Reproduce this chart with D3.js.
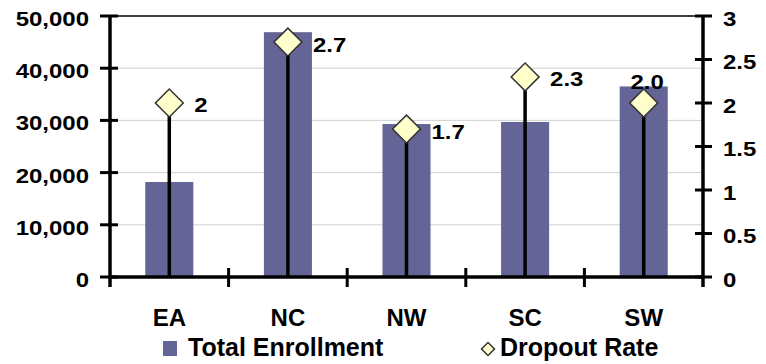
<!DOCTYPE html>
<html lang="en">
<head>
    <meta charset="UTF-8">
    <title>Enrollment and Dropout Rate</title>
    <script src="https://d3js.org/d3.v7.min.js"></script>
    <style>
        body { margin: 0; background: #fff; }
        text { font-family: "Liberation Sans", Arial, sans-serif; font-weight: bold; fill: #000; }
    </style>
</head>
<body>
<div id="chart"></div>
<script>
    var regions = ["EA", "NC", "NW", "SC", "SW"];
    var enrollment = [18200, 46900, 29300, 29700, 36500];
    var dropout = [2, 2.7, 1.7, 2.3, 2.0];
    var dropoutLabels = ["2", "2.7", "1.7", "2.3", "2.0"];
    var leftTicks = [0, 10000, 20000, 30000, 40000, 50000];
    var rightTicks = [0, 0.5, 1, 1.5, 2, 2.5, 3];

    var W = 766, H = 364;
    var margin = {top: 16, right: 63, bottom: 87, left: 110},
        width = W - margin.left - margin.right,
        height = H - margin.top - margin.bottom;

    var sx = 1.17; // the small labels are drawn a bit wide in the original

    function stretch(sel, k) {
        sel.each(function() {
            var t = d3.select(this);
            var xv = +t.attr("x") || 0;
            t.attr("x", xv / k).attr("transform", "scale(" + k + ",1)");
        });
    }

    var svg = d3.select("#chart")
        .append("svg")
        .attr("width", W)
        .attr("height", H);

    var g = svg.append("g")
        .attr("transform", "translate(" + margin.left + "," + margin.top + ")");

    var x = d3.scaleBand()
        .domain(regions)
        .range([0, width]);

    var y = d3.scaleLinear()
        .domain([0, 50000])
        .range([height, 0]);

    var y2 = d3.scaleLinear()
        .domain([0, 3])
        .range([height, 0]);

    // gridlines
    g.append("g")
        .selectAll("line")
        .data(leftTicks.slice(1, -1))
        .enter()
        .append("line")
        .attr("x1", 0)
        .attr("x2", width)
        .attr("y1", function(d) { return y(d); })
        .attr("y2", function(d) { return y(d); })
        .attr("stroke", "#d0d0d0")
        .attr("stroke-width", 1);

    // top border
    g.append("line")
        .attr("x1", 0).attr("x2", width)
        .attr("y1", 0).attr("y2", 0)
        .attr("stroke", "#000")
        .attr("stroke-width", 1.5);

    // bars
    var barW = x.bandwidth() * 0.405;
    g.append("g")
        .selectAll("rect")
        .data(regions)
        .enter()
        .append("rect")
        .attr("x", function(d) { return x(d) + x.bandwidth() / 2 - barW / 2; })
        .attr("y", function(d, i) { return y(enrollment[i]); })
        .attr("width", barW)
        .attr("height", function(d, i) { return height - y(enrollment[i]); })
        .attr("fill", "#646496");

    // drop lines
    g.append("g")
        .selectAll("line")
        .data(regions)
        .enter()
        .append("line")
        .attr("x1", function(d) { return x(d) + x.bandwidth() / 2; })
        .attr("x2", function(d) { return x(d) + x.bandwidth() / 2; })
        .attr("y1", function(d, i) { return y2(dropout[i]); })
        .attr("y2", height)
        .attr("stroke", "#000")
        .attr("stroke-width", 3.5);

    // left axis
    var leftAxis = g.append("g")
        .call(d3.axisLeft(y).tickValues(leftTicks).tickFormat(d3.format(",")).tickSize(0).tickPadding(21));
    leftAxis.select(".domain").remove();
    leftAxis.selectAll("text").attr("dy", "0.46em").style("font-size", "20.5px");
    stretch(leftAxis.selectAll("text"), sx);
    g.append("g")
        .selectAll("line")
        .data(leftTicks)
        .enter()
        .append("line")
        .attr("x1", -10).attr("x2", 8)
        .attr("y1", function(d) { return y(d); })
        .attr("y2", function(d) { return y(d); })
        .attr("stroke", "#000")
        .attr("stroke-width", 3);

    // right axis
    var rightAxis = g.append("g")
        .attr("transform", "translate(" + width + ",0)")
        .call(d3.axisRight(y2).tickValues(rightTicks).tickFormat(function(d) { return d; }).tickSize(0).tickPadding(20));
    rightAxis.select(".domain").remove();
    rightAxis.selectAll("text").attr("dy", "0.46em").style("font-size", "20.5px");
    stretch(rightAxis.selectAll("text"), sx);
    g.append("g")
        .selectAll("line")
        .data(rightTicks)
        .enter()
        .append("line")
        .attr("x1", width - 8).attr("x2", width + 9)
        .attr("y1", function(d) { return y2(d); })
        .attr("y2", function(d) { return y2(d); })
        .attr("stroke", "#000")
        .attr("stroke-width", 3);

    // bottom axis
    var bottomAxis = g.append("g")
        .attr("transform", "translate(0," + height + ")")
        .call(d3.axisBottom(x).tickSize(0).tickPadding(32));
    bottomAxis.select(".domain").remove();
    bottomAxis.selectAll("text").style("font-size", "24px");
    g.append("g")
        .selectAll("line")
        .data(regions.slice(1))
        .enter()
        .append("line")
        .attr("x1", function(d) { return x(d); })
        .attr("x2", function(d) { return x(d); })
        .attr("y1", height - 9).attr("y2", height + 10)
        .attr("stroke", "#000")
        .attr("stroke-width", 3);

    // axis lines
    g.append("line").attr("x1", 0).attr("x2", 0).attr("y1", 0).attr("y2", height + 10)
        .attr("stroke", "#000").attr("stroke-width", 3.5);
    g.append("line").attr("x1", width).attr("x2", width).attr("y1", 0).attr("y2", height + 10)
        .attr("stroke", "#000").attr("stroke-width", 3.5);
    g.append("line").attr("x1", 0).attr("x2", width).attr("y1", height).attr("y2", height)
        .attr("stroke", "#000").attr("stroke-width", 3.5);

    // diamonds
    var diamond = d3.symbol().type(d3.symbolSquare).size(390);
    g.append("g")
        .selectAll("path")
        .data(regions)
        .enter()
        .append("path")
        .attr("d", diamond)
        .attr("transform", function(d, i) {
            return "translate(" + (x(d) + x.bandwidth() / 2) + "," + y2(dropout[i]) + ") rotate(45)";
        })
        .attr("fill", "#ffffcc")
        .attr("stroke", "#333")
        .attr("stroke-width", 1.5);

    // data labels
    var labels = g.append("g")
        .selectAll("text")
        .data(regions)
        .enter()
        .append("text")
        .attr("x", function(d, i) {
            var cx = x(d) + x.bandwidth() / 2;
            return i === 4 ? cx + 3.5 : cx + 25;
        })
        .attr("y", function(d, i) {
            return i === 4 ? y2(dropout[i]) - 23 : y2(dropout[i]);
        })
        .attr("dy", "0.46em")
        .attr("text-anchor", function(d, i) { return i === 4 ? "middle" : "start"; })
        .style("font-size", "20.5px")
        .text(function(d, i) { return dropoutLabels[i]; });
    stretch(labels, sx);

    // legend
    var legend = svg.append("g");
    legend.append("rect")
        .attr("x", 163).attr("y", 341)
        .attr("width", 14).attr("height", 15)
        .attr("fill", "#646496");
    legend.append("text")
        .attr("x", 188).attr("y", 356)
        .style("font-size", "25px")
        .text("Total Enrollment");
    legend.append("path")
        .attr("d", d3.symbol().type(d3.symbolSquare).size(85))
        .attr("transform", "translate(488,349) rotate(45)")
        .attr("fill", "#ffffcc")
        .attr("stroke", "#333")
        .attr("stroke-width", 1.5);
    legend.append("text")
        .attr("x", 500).attr("y", 356)
        .style("font-size", "25px")
        .text("Dropout Rate");
</script>
</body>
</html>
